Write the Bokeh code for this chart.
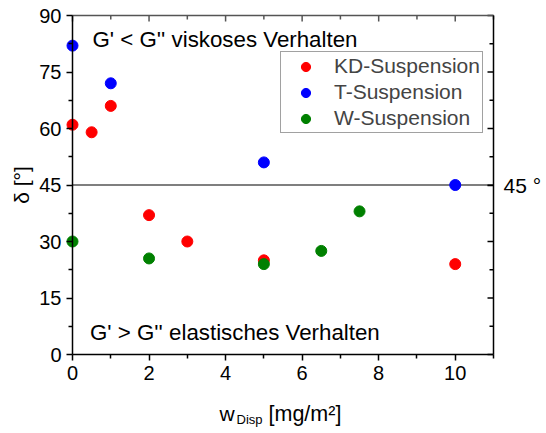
import math
from bokeh.plotting import figure
from bokeh.models import (Range1d, LinearAxis, FixedTicker, Label)
from bokeh.embed import file_html
from bokeh.resources import INLINE

# ---- data ----
kd_x = [0, 0.5, 1, 2, 3, 5, 10]
kd_y = [61, 59, 66, 37, 30, 25, 24]
t_x = [0, 1, 5, 10]
t_y = [82, 72, 51, 45]
w_x = [0, 2, 5, 6.5, 7.5]
w_y = [30, 25.5, 24, 27.5, 38]
ref_angle = 45
x_major = [0, 2, 4, 6, 8, 10]
x_minor = [1, 3, 5, 7, 9, 11]
y_major = [0, 15, 30, 45, 60, 75, 90]
y_minor = [7.5, 22.5, 37.5, 52.5, 67.5, 82.5]

FONT = "Liberation Sans"
X0, X1 = 0, 11
Y0, Y1 = 0, 90
# plot box in picture pixels
FL, FR, FT, FB = 72, 493, 15, 354
W, H = 546, 433

XPX = (FR - FL) / (X1 - X0)
YPX = (FB - FT) / (Y1 - Y0)


def px2x(px):
    return X0 + (px - FL) / XPX


def py2y(py):
    return Y0 + (FB - py) / YPX


# the frame spans the whole canvas; axes are fixed at the data box edges
p = figure(width=W, height=H, output_backend="svg", toolbar_location=None,
           x_range=Range1d(px2x(0), px2x(W)), y_range=Range1d(py2y(H), py2y(0)),
           x_axis_location=None, y_axis_location=None,
           min_border_left=0, min_border_right=0,
           min_border_top=0, min_border_bottom=0)
p.grid.visible = False
p.outline_line_color = None
p.background_fill_color = "white"
p.border_fill_color = "white"


def style_axis(ax, color="black"):
    ax.axis_line_color = color
    ax.axis_line_width = 1.5
    ax.major_tick_line_color = color
    ax.minor_tick_line_color = color
    ax.major_tick_line_width = 1.5
    ax.minor_tick_line_width = 1.5
    ax.major_label_text_font = FONT
    ax.major_label_text_font_size = "20px"
    ax.major_label_text_color = "black"
    ax.axis_label_text_font = FONT
    ax.axis_label_text_font_style = "normal"
    ax.axis_label_text_font_size = "21px"
    ax.axis_label_text_color = "black"


# left axis
yl = LinearAxis(ticker=FixedTicker(ticks=y_major, minor_ticks=y_minor),
                bounds=(Y0, Y1), fixed_location=X0)
style_axis(yl)
yl.major_tick_in, yl.major_tick_out = 0, 6
yl.minor_tick_in, yl.minor_tick_out = 0, 4
yl.major_label_standoff = 5
yl.axis_label = "δ [°]"
yl.axis_label_standoff = 3
p.add_layout(yl, "left")

# bottom axis
xb = LinearAxis(ticker=FixedTicker(ticks=x_major, minor_ticks=x_minor),
                bounds=(X0, X1), fixed_location=Y0)
style_axis(xb)
xb.major_tick_in, xb.major_tick_out = 0, 6
xb.minor_tick_in, xb.minor_tick_out = 0, 4
xb.major_label_standoff = 5
p.add_layout(xb, "below")

# right axis: only the 45 ° marker label
yr = LinearAxis(ticker=FixedTicker(ticks=[ref_angle], minor_ticks=[]),
                bounds=(Y0, Y1), fixed_location=X1)
style_axis(yr)
yr.major_tick_in, yr.major_tick_out = 6, 0
yr.major_label_standoff = 10
yr.major_label_text_font_size = "21px"
yr.major_label_overrides = {ref_angle: "45 °"}
p.add_layout(yr, "right")

# top axis: plain gray edge line
xt = LinearAxis(ticker=FixedTicker(ticks=[], minor_ticks=[]),
                bounds=(X0, X1), fixed_location=Y1)
style_axis(xt, "#555555")
xt.major_tick_in = xt.major_tick_out = 0
xt.minor_tick_in = xt.minor_tick_out = 0
p.add_layout(xt, "above")

# inward ticks on right and top edges
p.ray(x=[X1] * len(y_major), y=y_major, length=6, length_units="screen",
      angle=math.pi, line_color="black", line_width=1.5)
p.ray(x=[X1] * len(y_minor), y=y_minor, length=4, length_units="screen",
      angle=math.pi, line_color="black", line_width=1.5)
p.ray(x=x_major, y=[Y1] * len(x_major), length=6, length_units="screen",
      angle=-math.pi / 2, line_color="#555555", line_width=1.5)
p.ray(x=x_minor, y=[Y1] * len(x_minor), length=4, length_units="screen",
      angle=-math.pi / 2, line_color="#555555", line_width=1.5)

# 45 ° reference line across the data box
p.line(x=[X0, X1], y=[ref_angle, ref_angle], line_color="#555555", line_width=1.3)

p.scatter(kd_x, kd_y, size=11, color="#ff0000", legend_label="KD-Suspension")
p.scatter(t_x, t_y, size=11, color="#0000ff", legend_label="T-Suspension")
p.scatter(w_x, w_y, size=11, color="#008000", legend_label="W-Suspension")

lg = p.legend[0]
lg.location = (280, H - 133)
lg.label_text_font = FONT
lg.label_text_font_size = "21px"
lg.label_height = 23
lg.glyph_height = 23
lg.glyph_width = 45
lg.spacing = 2
lg.padding = 2
lg.margin = 0
lg.label_standoff = 6
lg.border_line_color = "#444444"
lg.border_line_width = 1
lg.background_fill_alpha = 1


def lab(text, px, py, size):
    p.add_layout(Label(x=px2x(px), y=py2y(py), text=text, text_font=FONT,
                       text_font_size=size, text_baseline="alphabetic",
                       text_align="left", text_color="black"))


lab("G' < G'' viskoses Verhalten", 92, 39, "22.3px")
lab("G' > G'' elastisches Verhalten", 89.5, 332, "22.3px")
lab("w", 219, 413, "21px")
lab("Disp", 236, 419, "13px")
lab("[mg/m²]", 268, 413, "21.5px")

open("out.html", "w").write(file_html(p, INLINE))
